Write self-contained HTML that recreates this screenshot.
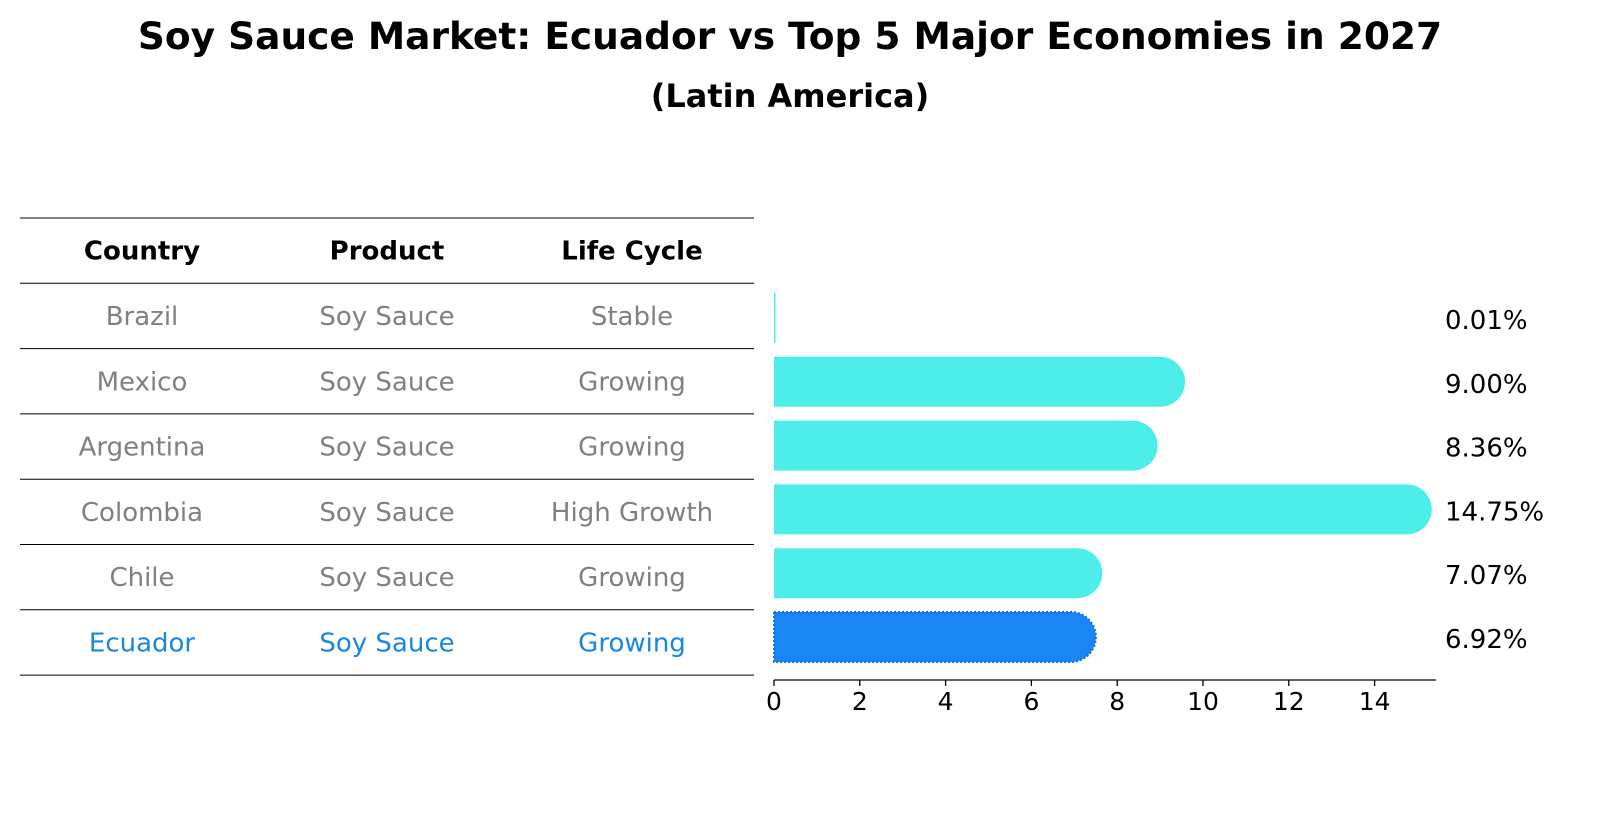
<!DOCTYPE html>
<html><head><meta charset="utf-8"><style>
body{margin:0;background:#fff;font-family:"Liberation Sans","DejaVu Sans",sans-serif;}
svg text{font-family:"DejaVu Sans","Liberation Sans",sans-serif;}
</style></head><body>
<svg id="c" width="1604" height="823" viewBox="0 0 1604 823">
<text x="790" y="49" text-anchor="middle" font-size="37.5" font-weight="bold">Soy Sauce Market: Ecuador vs Top 5 Major Economies in 2027</text>
<text x="790" y="107" text-anchor="middle" font-size="32" font-weight="bold">(Latin America)</text>
<g id="table"></g>
<g id="bars"></g>
</svg>
<script>
const countries=["Brazil","Mexico","Argentina","Colombia","Chile","Ecuador"];
const products=["Soy Sauce","Soy Sauce","Soy Sauce","Soy Sauce","Soy Sauce","Soy Sauce"];
const lifeCycles=["Stable","Growing","Growing","High Growth","Growing","Growing"];
const values=[0.01,9.00,8.36,14.75,7.07,6.92];
const ticks=[0,2,4,6,8,10,12,14];
const NS="http://www.w3.org/2000/svg";
function mk(t,a,p){const e=document.createElementNS(NS,t);for(const k in a)e.setAttribute(k,a[k]);p.appendChild(e);return e;}
const tb=document.getElementById('table'),bg=document.getElementById('bars');
const rowTop=218,rowH=65.3,colX=[142,387,632];
function ln(y,name){const l=mk('line',{x1:20,x2:754,y1:y,y2:y,stroke:'#000','stroke-width':1},tb);}
ln(rowTop,'table-top-rule');
["Country","Product","Life Cycle"].forEach((h,i)=>{const t=mk('text',{x:colX[i],y:rowTop+rowH/2+9,'text-anchor':'middle','font-size':26,'font-weight':'bold'},tb);t.textContent=h;});
countries.forEach((c,r)=>{
 const y=rowTop+rowH*(r+1);ln(y,'row-rule');
 const col=c==="Ecuador"?"#1a86e0":"#808080";
 [c,products[r],lifeCycles[r]].forEach((v,i)=>{const t=mk('text',{x:colX[i],y:y+rowH/2+9,'text-anchor':'middle','font-size':26,fill:col},tb);t.textContent=v;});
});
ln(rowTop+rowH*7,'table-bottom-rule');
const x0=774,unit=42.9,bh=50;
const xs=v=>x0+v*unit;
const yc=r=>318+r*63.8;
values.forEach((v,r)=>{
 const isE=countries[r]==="Ecuador";
 const x=xs(0),w=xs(v)-x0,y=yc(r)-bh/2;
 let b;
 if(v<0.1){b=mk('rect',{x:x,y:y,width:1.5,height:bh,fill:'#4deeea'},bg);}
 else b=mk('path',{d:`M${x},${y}H${x+w}A${bh/2},${bh/2} 0 0 1 ${x+w},${y+bh}H${x}Z`,fill:isE?'#1a86f5':'#4deeea',stroke:isE?'#1070e0':'none','stroke-dasharray':isE?'2,2':'none','stroke-width':isE?2:0},bg);
 
 
 const t=mk('text',{x:1445,y:yc(r)+11,'font-size':26},bg);t.textContent=v.toFixed(2)+'%';
 
 
});
const ax=mk('line',{x1:x0,x2:1436,y1:680,y2:680,stroke:'#000','stroke-width':1.3},bg);


ticks.forEach(t=>{
 const tk=mk('line',{x1:xs(t),x2:xs(t),y1:680,y2:686,stroke:'#000','stroke-width':1.3},bg);
 
 
 const tl=mk('text',{x:xs(t),y:710,'text-anchor':'middle','font-size':25},bg);tl.textContent=t;
 
 
});
</script>
</body></html>
